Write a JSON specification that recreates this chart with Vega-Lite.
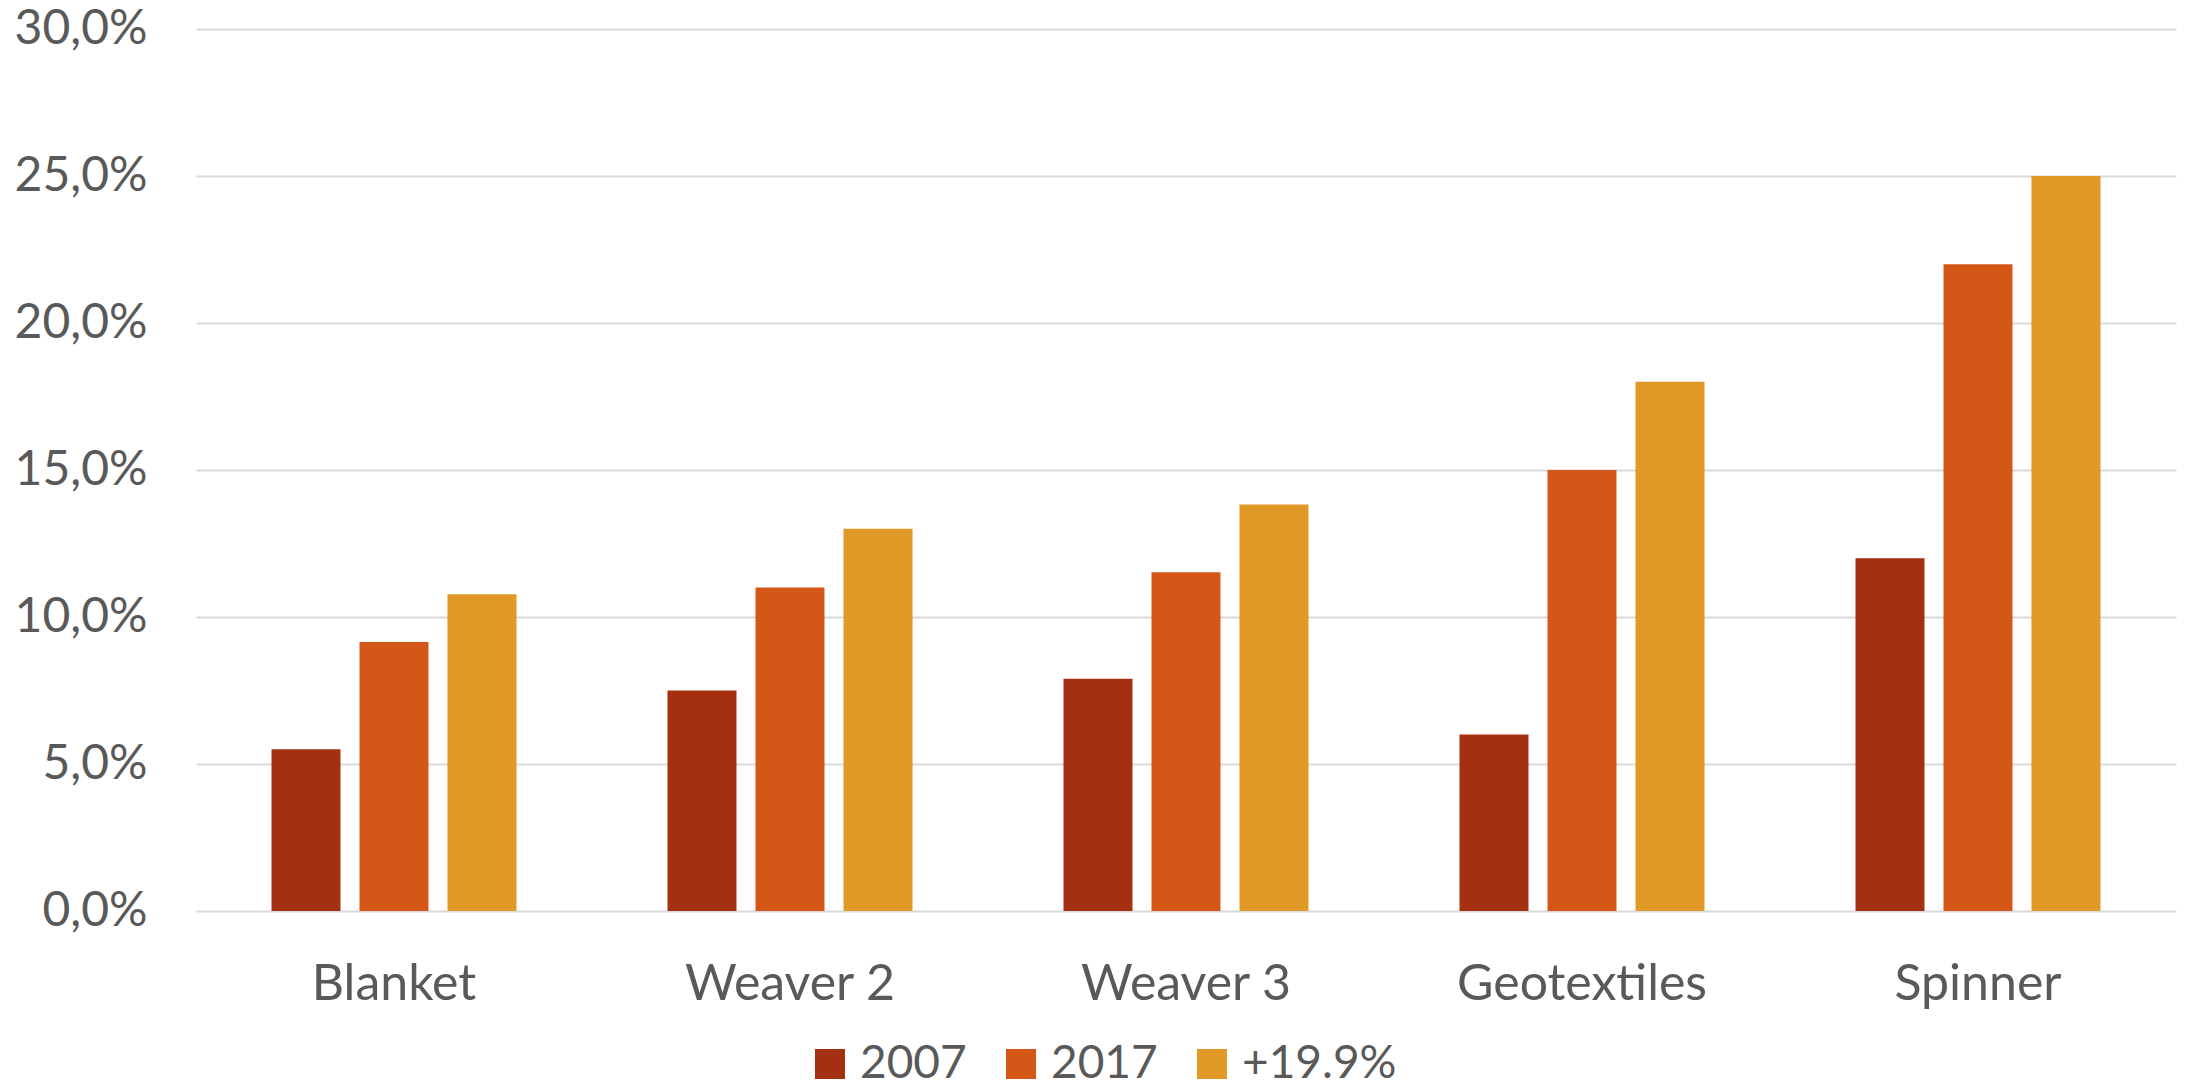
{
  "$schema": "https://vega.github.io/schema/vega-lite/v6.json",
  "autosize": "none",
  "width": 1980,
  "height": 882,
  "padding": {"left": 196, "top": 29, "right": 14, "bottom": 180},
  "background": "white",
  "config": {
    "view": {"stroke": null},
    "font": "Lato"
  },
  "data": {
    "values": [
      {"category": "Blanket", "series": "2007", "value": 0.055},
      {"category": "Blanket", "series": "2017", "value": 0.0915},
      {"category": "Blanket", "series": "+19.9%", "value": 0.1077},
      {"category": "Weaver 2", "series": "2007", "value": 0.075},
      {"category": "Weaver 2", "series": "2017", "value": 0.11},
      {"category": "Weaver 2", "series": "+19.9%", "value": 0.13},
      {"category": "Weaver 3", "series": "2007", "value": 0.079},
      {"category": "Weaver 3", "series": "2017", "value": 0.1152},
      {"category": "Weaver 3", "series": "+19.9%", "value": 0.1383},
      {"category": "Geotextiles", "series": "2007", "value": 0.06},
      {"category": "Geotextiles", "series": "2017", "value": 0.15},
      {"category": "Geotextiles", "series": "+19.9%", "value": 0.18},
      {"category": "Spinner", "series": "2007", "value": 0.12},
      {"category": "Spinner", "series": "2017", "value": 0.22},
      {"category": "Spinner", "series": "+19.9%", "value": 0.25}
    ]
  },
  "mark": {"type": "bar"},
  "encoding": {
    "x": {
      "field": "category",
      "type": "nominal",
      "sort": ["Blanket", "Weaver 2", "Weaver 3", "Geotextiles", "Spinner"],
      "scale": {"paddingInner": 0, "paddingOuter": 0},
      "axis": {
        "title": null,
        "domain": false,
        "ticks": false,
        "labelAngle": 0,
        "labelLimit": 0,
        "labelFont": "Lato",
        "labelFontSize": 50,
        "labelColor": "#595959",
        "labelBaseline": "alphabetic",
        "labelPadding": 88
      }
    },
    "xOffset": {
      "field": "series",
      "type": "nominal",
      "sort": ["2007", "2017", "+19.9%"],
      "scale": {"paddingInner": 0.216, "paddingOuter": 0.858}
    },
    "y": {
      "field": "value",
      "type": "quantitative",
      "scale": {"domain": [0, 0.3], "nice": false},
      "axis": {
        "title": null,
        "domain": false,
        "ticks": false,
        "values": [0, 0.05, 0.1, 0.15, 0.2, 0.25, 0.3],
        "labelExpr": "replace(format(datum.value, '.1%'), '.', ',')",
        "labelFont": "Lato",
        "labelFontSize": 48,
        "labelColor": "#595959",
        "labelPadding": 49,
        "labelLimit": 0,
        "gridColor": "#D9D9D9",
        "gridWidth": 2
      }
    },
    "color": {
      "field": "series",
      "type": "nominal",
      "sort": ["2007", "2017", "+19.9%"],
      "scale": {
        "domain": ["2007", "2017", "+19.9%"],
        "range": ["#A52F11", "#D55718", "#E09826"]
      },
      "legend": {
        "title": null,
        "orient": "none",
        "direction": "horizontal",
        "legendX": 611,
        "legendY": 1012,
        "symbolType": "square",
        "symbolSize": 900,
        "symbolStrokeWidth": 0,
        "labelFont": "Lato",
        "labelFontSize": 46,
        "labelColor": "#595959",
        "labelOffset": 7,
        "columnPadding": 31,
        "labelLimit": 0
      }
    }
  }
}
